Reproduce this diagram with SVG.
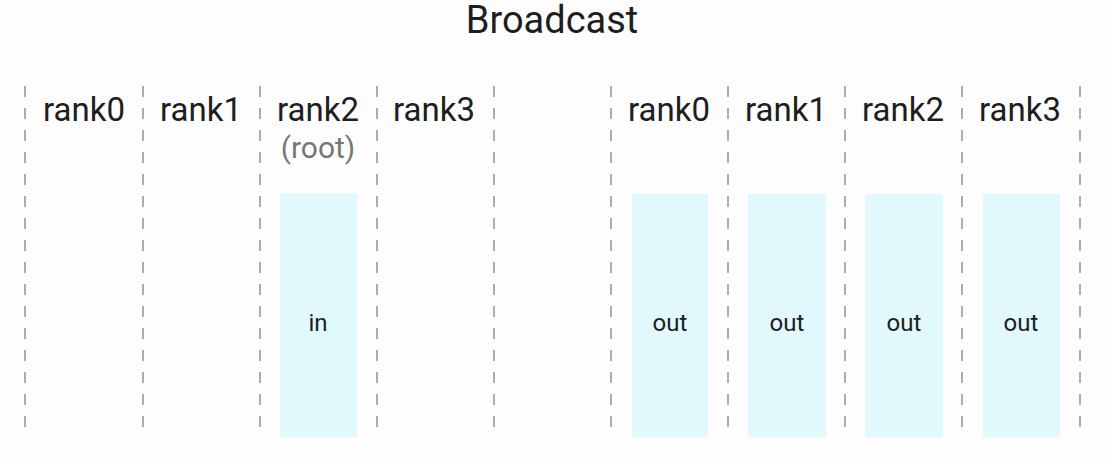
<svg xmlns="http://www.w3.org/2000/svg" width="1112" height="464" viewBox="0 0 1112 464">
<style>
.t{font-family:Roboto,"Liberation Sans",sans-serif;fill:#1e1e1e;text-anchor:middle}
.h{font-size:33px}
.root{font-size:30px;fill:#777}
.box{fill:#e1f9fc}
.bl{font-size:24px}
.d{stroke:#999;stroke-width:1.6;stroke-dasharray:11 11}
</style>
<rect width="1112" height="464" fill="#fdfdfd"/>
<text class="t" x="552" y="33" font-size="38">Broadcast</text>
<g id="connectors">
<line class="d" x1="25" y1="86" x2="25" y2="438"/>
<line class="d" x1="143" y1="86" x2="143" y2="438"/>
<line class="d" x1="260" y1="86" x2="260" y2="438"/>
<line class="d" x1="377" y1="86" x2="377" y2="438"/>
<line class="d" x1="494" y1="86" x2="494" y2="438"/>
<line class="d" x1="611" y1="86" x2="611" y2="438"/>
<line class="d" x1="728" y1="86" x2="728" y2="438"/>
<line class="d" x1="845" y1="86" x2="845" y2="438"/>
<line class="d" x1="962" y1="86" x2="962" y2="438"/>
<line class="d" x1="1080" y1="86" x2="1080" y2="438"/>
</g>
<g id="label-l0"><text class="t h" x="84" y="121">rank0</text></g>
<g id="label-l1"><text class="t h" x="201" y="121">rank1</text></g>
<g id="label-l2"><text class="t h" x="318" y="121">rank2</text><text class="t root" x="318" y="158">(root)</text></g>
<g id="label-l3"><text class="t h" x="434" y="121">rank3</text></g>
<g id="label-r0"><text class="t h" x="669" y="121">rank0</text></g>
<g id="label-r1"><text class="t h" x="786" y="121">rank1</text></g>
<g id="label-r2"><text class="t h" x="903" y="121">rank2</text></g>
<g id="label-r3"><text class="t h" x="1020" y="121">rank3</text></g>
<g id="in"><rect class="box" x="280" y="193" width="77" height="244"/><text class="t bl" x="318" y="331">in</text></g>
<g id="out0"><rect class="box" x="632" y="194" width="76" height="243"/><text class="t bl" x="670" y="331">out</text></g>
<g id="out1"><rect class="box" x="748" y="194" width="78" height="243"/><text class="t bl" x="787" y="331">out</text></g>
<g id="out2"><rect class="box" x="865" y="194" width="78" height="243"/><text class="t bl" x="904" y="331">out</text></g>
<g id="out3"><rect class="box" x="983" y="194" width="77" height="243"/><text class="t bl" x="1021" y="331">out</text></g>
</svg>
